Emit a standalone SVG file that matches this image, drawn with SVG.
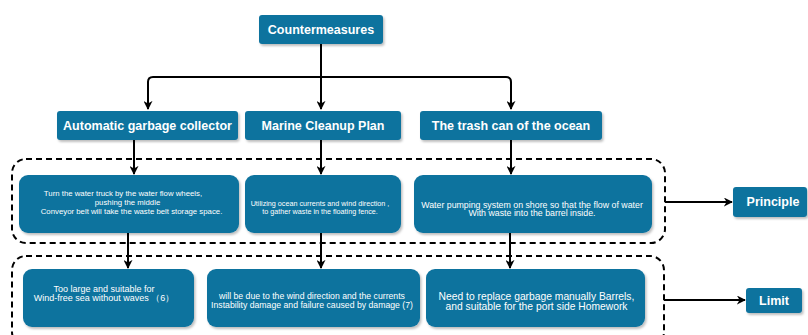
<svg xmlns="http://www.w3.org/2000/svg" width="808" height="335" viewBox="0 0 808 335">
<defs>
<filter id="sh" x="-10%" y="-10%" width="130%" height="140%">
<feDropShadow dx="1.5" dy="2" stdDeviation="1" flood-color="#000" flood-opacity="0.25"/>
</filter>
<marker id="ar" viewBox="0 0 10 10" refX="9" refY="5" markerWidth="9" markerHeight="9" markerUnits="userSpaceOnUse" orient="auto">
<path d="M0,0 L10,5 L0,10 L3,5 Z" fill="#000"/>
</marker>
</defs>
<style>
.n{fill:#10739E;filter:url(#sh)}
.h{font-family:"Liberation Sans",Arial,sans-serif;font-weight:bold;font-size:12.5px;fill:#fff;text-anchor:middle}
.b{font-family:"Liberation Sans",Arial,sans-serif;fill:#fff;text-anchor:middle}
.c{fill:none;stroke:#000;stroke-width:2}
.d{fill:none;stroke:#000;stroke-width:2;stroke-dasharray:6 4}
</style>
<rect width="808" height="335" fill="#fff"/>
<g id="groups">
<rect class="d" x="12" y="159" width="653" height="84" rx="14"/>
<rect class="d" x="12" y="256" width="652" height="90" rx="14"/>
</g>
<g id="connectors">
<path class="c" d="M321,44 V109" marker-end="url(#ar)"/>
<path class="c" d="M321,77 H153 Q148,77 148,82 V109" marker-end="url(#ar)"/>
<path class="c" d="M321,77 H506 Q511,77 511,82 V109" marker-end="url(#ar)"/>
<path class="c" d="M134,140 V174" marker-end="url(#ar)"/>
<path class="c" d="M321,140 V174" marker-end="url(#ar)"/>
<path class="c" d="M511,140 V174" marker-end="url(#ar)"/>
<path class="c" d="M128,233 V268" marker-end="url(#ar)"/>
<path class="c" d="M321,233 V268" marker-end="url(#ar)"/>
<path class="c" d="M510,233 V268" marker-end="url(#ar)"/>
<path class="c" d="M665,202 H732" marker-end="url(#ar)"/>
<path class="c" d="M664,300 H745" marker-end="url(#ar)"/>
</g>
<g id="countermeasures">
<rect class="n" x="259" y="15" width="124" height="29" rx="3"/>
<text class="h" x="321" y="34">Countermeasures</text>
</g>
<g id="automatic">
<rect class="n" x="57" y="111" width="181" height="29" rx="3"/>
<text class="h" x="147.5" y="130">Automatic garbage collector</text>
</g>
<g id="marine">
<rect class="n" x="245" y="111" width="156" height="29" rx="3"/>
<text class="h" x="323" y="130">Marine Cleanup Plan</text>
</g>
<g id="trashcan">
<rect class="n" x="420" y="111" width="182" height="29" rx="3"/>
<text class="h" x="511" y="130">The trash can of the ocean</text>
</g>
<g id="p1">
<rect class="n" x="19" y="175" width="220" height="58" rx="9"/>
<text class="b" font-size="7.8" x="123" y="196">Turn the water truck by the water flow wheels,</text>
<text class="b" font-size="7.8" x="127.5" y="205">pushing the middle</text>
<text class="b" font-size="7.8" x="131.5" y="213.5">Conveyor belt will take the waste belt storage space.</text>
</g>
<g id="p2">
<rect class="n" x="245" y="175" width="156" height="58" rx="9"/>
<text class="b" font-size="7.2" x="320" y="206">Utilizing ocean currents and wind direction ,</text>
<text class="b" font-size="7.2" x="320" y="214">to gather waste in the floating fence.</text>
</g>
<g id="p3">
<rect class="n" x="414" y="175" width="238" height="58" rx="9"/>
<text class="b" font-size="8.8" x="532" y="207.5">Water pumping system on shore so that the flow of water</text>
<text class="b" font-size="8.8" x="532" y="216">With waste into the barrel inside.</text>
</g>
<g id="l1">
<rect class="n" x="23" y="269" width="171" height="58" rx="9"/>
<text class="b" font-size="9" x="104" y="291.5">Too large and suitable for</text>
<text class="b" font-size="9" x="104" y="301">Wind-free sea without waves （6）</text>
</g>
<g id="l2">
<rect class="n" x="207" y="269" width="213" height="58" rx="9"/>
<text class="b" font-size="8.7" x="312" y="298.5">will be due to the wind direction and the currents</text>
<text class="b" font-size="8.7" x="312" y="307.5">Instability damage and failure caused by damage (7)</text>
</g>
<g id="l3">
<rect class="n" x="426" y="269" width="219" height="58" rx="9"/>
<text class="b" font-size="10.3" x="536.5" y="300">Need to replace garbage manually Barrels,</text>
<text class="b" font-size="10.3" x="536.5" y="309.5">and suitable for the port side Homework</text>
</g>
<g id="principle">
<rect class="n" x="733" y="187" width="74" height="30" rx="3"/>
<text class="h" x="773" y="206">Principle</text>
</g>
<g id="limit">
<rect class="n" x="746" y="288" width="56" height="25" rx="3"/>
<text class="h" x="774" y="305">Limit</text>
</g>
</svg>
